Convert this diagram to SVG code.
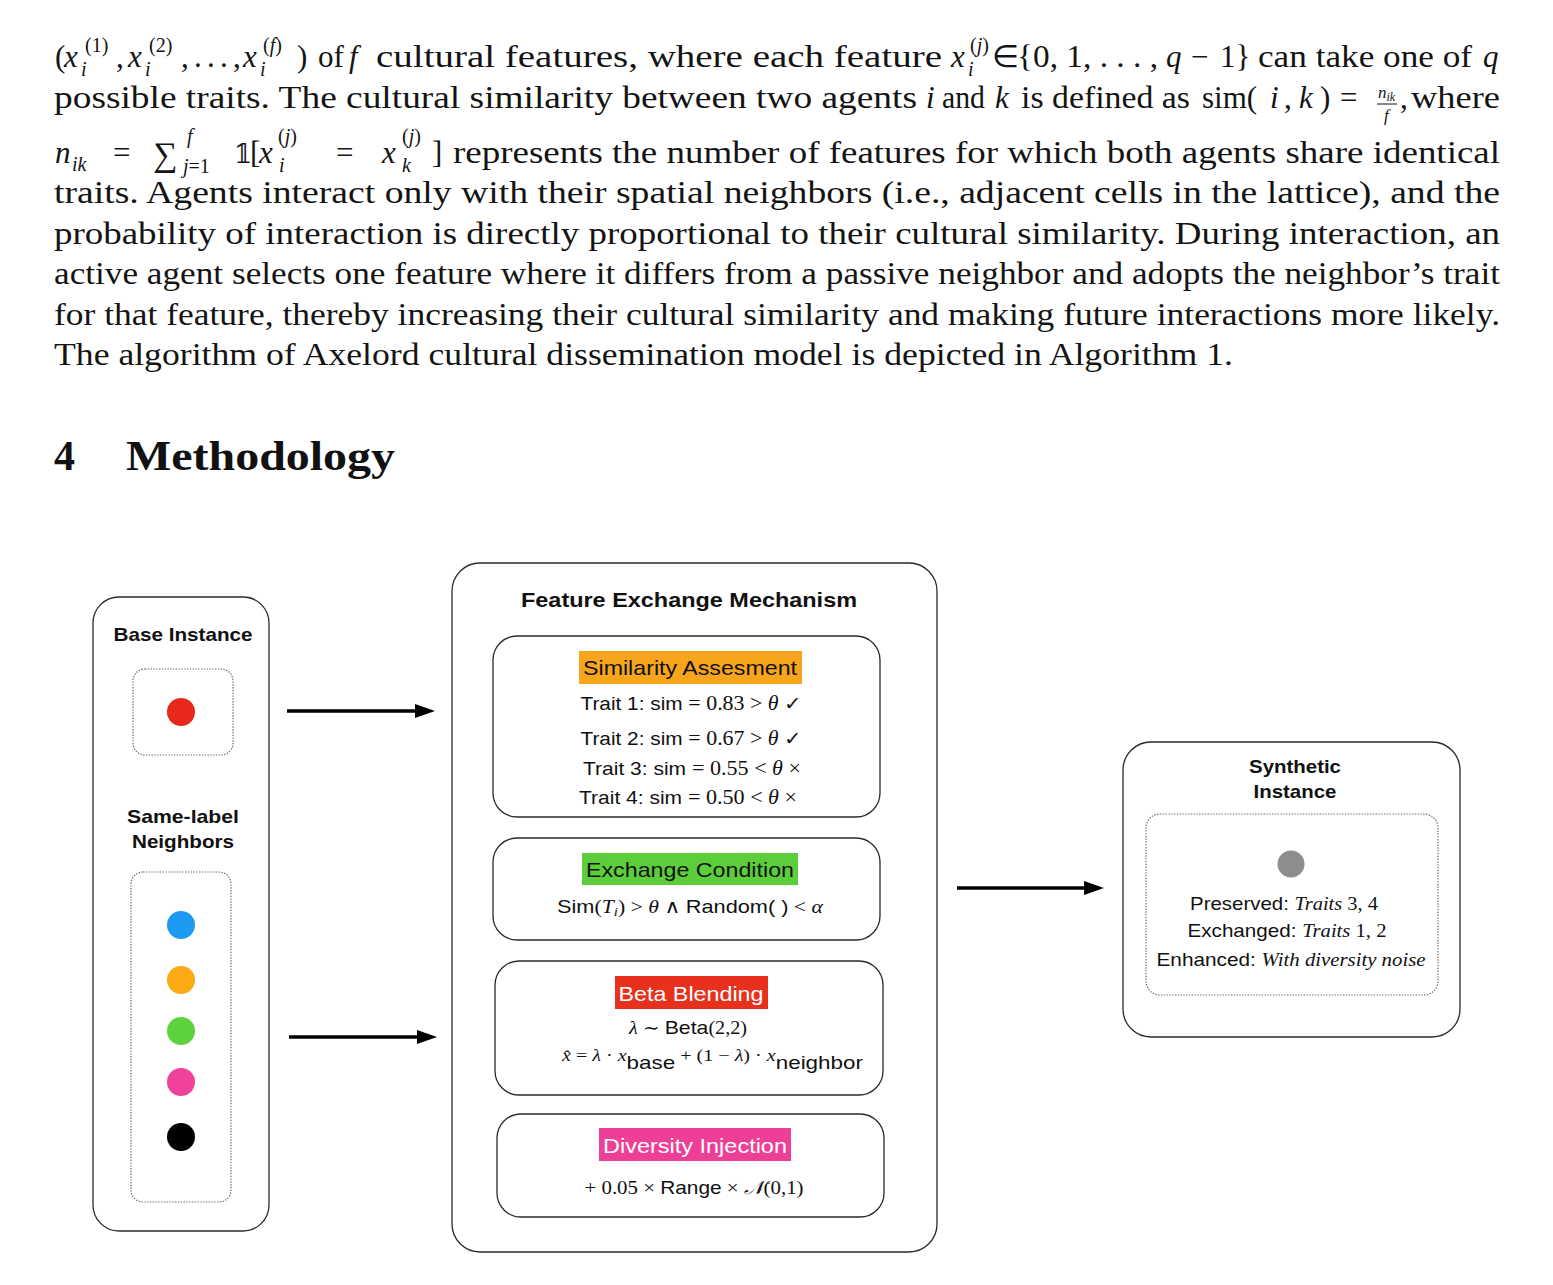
<svg xmlns="http://www.w3.org/2000/svg" width="1553" height="1285" viewBox="0 0 1553 1285">
<style>
.p{font-family:"Liberation Serif","Times New Roman",serif;font-size:31px;fill:#141414}
.it{font-style:italic}
.s{font-size:20px}
.h{font-family:"Liberation Serif","Times New Roman",serif;font-weight:bold;font-size:42px;fill:#111}
.box{fill:#fff;stroke:#2a2a2a;stroke-width:1.3}
.dot{fill:none;stroke:#6a6a6a;stroke-width:1.2;stroke-dasharray:1.4 1.4}
.t{font-family:"Liberation Sans",Arial,sans-serif;fill:#111}
.b{font-weight:bold}
.m{font-family:"Liberation Serif","DejaVu Serif",serif}
.lbl{font-family:"Liberation Sans",Arial,sans-serif;font-size:21px}
.arr{stroke:#000;stroke-width:3.5;fill:none}
</style>
<defs>
<marker id="ah" markerWidth="20" markerHeight="14" refX="8" refY="7" orient="auto" markerUnits="userSpaceOnUse">
<path d="M0,0 L20,7 L0,14 z" fill="#000"/>
</marker>
</defs>
<rect width="1553" height="1285" fill="#fff"/>

<g id="body-text">
<!-- line 1 -->
<text class="p" y="67"><tspan x="55" y="67">(</tspan><tspan x="64" y="67" class="it">x</tspan><tspan x="81" y="76" class="s it">i</tspan><tspan x="85" y="52" class="s">(1)</tspan><tspan x="116" y="67">,</tspan><tspan x="128" y="67" class="it">x</tspan><tspan x="145" y="76" class="s it">i</tspan><tspan x="149" y="52" class="s">(2)</tspan><tspan x="181" y="67">,</tspan><tspan x="194" y="67">.</tspan><tspan x="207" y="67">.</tspan><tspan x="220" y="67">.</tspan><tspan x="233" y="67">,</tspan><tspan x="243" y="67" class="it">x</tspan><tspan x="260" y="76" class="s it">i</tspan><tspan x="263" y="52" class="s">(<tspan class="it">f</tspan>)</tspan><tspan x="297" y="67">)</tspan><tspan x="318" y="67">of</tspan><tspan x="349" y="67" class="it">f</tspan></text>
<text class="p" x="376" y="67" textLength="566" lengthAdjust="spacingAndGlyphs">cultural features, where each feature</text>
<text class="p" y="67"><tspan x="951" y="67" class="it">x</tspan><tspan x="968" y="76" class="s it">i</tspan><tspan x="970" y="52" class="s">(<tspan class="it">j</tspan>)</tspan><tspan x="992" y="67">∈</tspan></text>
<text class="p" x="1017" y="67" textLength="141" lengthAdjust="spacingAndGlyphs">{0, 1, . . . ,</text>
<text class="p" y="67"><tspan x="1166" y="67" class="it">q</tspan><tspan x="1191" y="67">−</tspan><tspan x="1220" y="67">1}</tspan></text>
<text class="p" x="1258" y="67" textLength="214" lengthAdjust="spacingAndGlyphs">can take one of</text>
<text class="p it" x="1483" y="67">q</text>

<!-- line 2 -->
<text class="p" x="54" y="108" textLength="863" lengthAdjust="spacingAndGlyphs">possible traits. The cultural similarity between two agents</text>
<text class="p it" x="926" y="108">i</text>
<text class="p" x="942" y="108" textLength="43" lengthAdjust="spacingAndGlyphs">and</text>
<text class="p it" x="995" y="108">k</text>
<text class="p" x="1021" y="108" textLength="169" lengthAdjust="spacingAndGlyphs">is defined as</text>
<text class="p" y="108"><tspan x="1202" y="108">sim(</tspan><tspan x="1270" y="108" class="it">i</tspan><tspan x="1284" y="108">,</tspan><tspan x="1299" y="108" class="it">k</tspan><tspan x="1320" y="108">)</tspan><tspan x="1340" y="108">=</tspan></text>
<text class="p it" style="font-size:17px" x="1378" y="98">n<tspan style="font-size:12px" dy="3">ik</tspan></text>
<line x1="1377" y1="104" x2="1397" y2="104" stroke="#141414" stroke-width="1"/>
<text class="p it" style="font-size:17px" x="1384" y="121">f</text>
<text class="p" x="1400" y="108">,</text>
<text class="p" x="1411" y="108" textLength="89" lengthAdjust="spacingAndGlyphs">where</text>

<!-- line 3 -->
<text class="p" y="163"><tspan x="55" y="163" class="it">n</tspan><tspan x="72" y="171" class="s it">ik</tspan><tspan x="113" y="163">=</tspan><tspan x="153" y="166" style="font-size:34px">∑</tspan><tspan x="187" y="143" class="s it">f</tspan><tspan x="183" y="173" class="s"><tspan class="it">j</tspan>=1</tspan><tspan x="234" y="163" style="font-family:'DejaVu Serif',serif;font-size:26px">𝟙</tspan><tspan x="250" y="163">[</tspan><tspan x="259" y="163" class="it">x</tspan><tspan x="278" y="143" class="s">(<tspan class="it">j</tspan>)</tspan><tspan x="279" y="172" class="s it">i</tspan><tspan x="336" y="163">=</tspan><tspan x="382" y="163" class="it">x</tspan><tspan x="402" y="143" class="s">(<tspan class="it">j</tspan>)</tspan><tspan x="402" y="172" class="s it">k</tspan><tspan x="432" y="163">]</tspan></text>
<text class="p" x="453" y="163" textLength="1047" lengthAdjust="spacingAndGlyphs">represents the number of features for which both agents share identical</text>

<!-- lines 4-8 -->
<text class="p" x="54" y="203" textLength="1446" lengthAdjust="spacingAndGlyphs">traits.  Agents interact only with their spatial neighbors (i.e., adjacent cells in the lattice), and the</text>
<text class="p" x="54" y="244" textLength="1446" lengthAdjust="spacingAndGlyphs">probability of interaction is directly proportional to their cultural similarity.  During interaction, an</text>
<text class="p" x="54" y="284" textLength="1446" lengthAdjust="spacingAndGlyphs">active agent selects one feature where it differs from a passive neighbor and adopts the neighbor’s trait</text>
<text class="p" x="54" y="325" textLength="1446" lengthAdjust="spacingAndGlyphs">for that feature, thereby increasing their cultural similarity and making future interactions more likely.</text>
<text class="p" x="54" y="365" textLength="1179" lengthAdjust="spacingAndGlyphs">The algorithm of Axelord cultural dissemination model is depicted in Algorithm 1.</text>

<text class="h" x="54" y="470">4</text>
<text class="h" x="126" y="470" textLength="269" lengthAdjust="spacingAndGlyphs">Methodology</text>
</g>

<g id="connectors">
<line class="arr" x1="287" y1="711" x2="423" y2="711" marker-end="url(#ah)"/>
<line class="arr" x1="289" y1="1037" x2="425" y2="1037" marker-end="url(#ah)"/>
<line class="arr" x1="957" y1="888" x2="1092" y2="888" marker-end="url(#ah)"/>
</g>

<g id="input-node">
<rect class="box" x="93" y="597" width="176" height="634" rx="26"/>
<text class="t b" x="183" y="641" font-size="19" text-anchor="middle" textLength="139" lengthAdjust="spacingAndGlyphs">Base Instance</text>
<rect class="dot" x="133" y="669" width="100" height="86" rx="12"/>
<circle cx="181" cy="712" r="14" fill="#E8281A"/>
<text class="t b" x="183" y="823" font-size="19" text-anchor="middle" textLength="112" lengthAdjust="spacingAndGlyphs">Same-label</text>
<text class="t b" x="183" y="848" font-size="19" text-anchor="middle" textLength="102" lengthAdjust="spacingAndGlyphs">Neighbors</text>
<rect class="dot" x="131" y="872" width="100" height="330" rx="12"/>
<circle cx="181" cy="925" r="14" fill="#1D9BF0"/>
<circle cx="181" cy="980" r="14" fill="#FBAA14"/>
<circle cx="181" cy="1031" r="14" fill="#5CD23D"/>
<circle cx="181" cy="1082" r="14" fill="#F0429A"/>
<circle cx="181" cy="1137" r="14" fill="#000"/>
</g>

<g id="mechanism-node">
<rect class="box" x="452" y="563" width="485" height="689" rx="28"/>
<text class="t b" x="689" y="607" font-size="21" text-anchor="middle" textLength="336" lengthAdjust="spacingAndGlyphs">Feature Exchange Mechanism</text>
</g>

<g id="similarity-node">
<rect class="box" x="493" y="636" width="387" height="181" rx="24"/>
<rect x="579" y="651" width="223" height="33" fill="#F7A51C"/>
<text class="lbl" x="690" y="675" text-anchor="middle" fill="#111" textLength="214" lengthAdjust="spacingAndGlyphs">Similarity Assesment</text>
<text class="t" x="691" y="710" font-size="19" text-anchor="middle" textLength="221" lengthAdjust="spacingAndGlyphs">Trait 1: sim <tspan class="m" font-size="20">= 0.83 &gt; <tspan class="it">θ</tspan> </tspan><tspan font-family="DejaVu Sans" font-size="19">✓</tspan></text>
<text class="t" x="691" y="745" font-size="19" text-anchor="middle" textLength="221" lengthAdjust="spacingAndGlyphs">Trait 2: sim <tspan class="m" font-size="20">= 0.67 &gt; <tspan class="it">θ</tspan> </tspan><tspan font-family="DejaVu Sans" font-size="19">✓</tspan></text>
<text class="t" x="692" y="775" font-size="19" text-anchor="middle" textLength="218" lengthAdjust="spacingAndGlyphs">Trait 3: sim <tspan class="m" font-size="20">= 0.55 &lt; <tspan class="it">θ</tspan> ×</tspan></text>
<text class="t" x="688" y="804" font-size="19" text-anchor="middle" textLength="218" lengthAdjust="spacingAndGlyphs">Trait 4: sim <tspan class="m" font-size="20">= 0.50 &lt; <tspan class="it">θ</tspan> ×</tspan></text>
</g>

<g id="exchange-node">
<rect class="box" x="493" y="838" width="387" height="102" rx="24"/>
<rect x="582" y="853" width="216" height="32" fill="#5CCE3B"/>
<text class="lbl" x="690" y="877" text-anchor="middle" fill="#111" textLength="208" lengthAdjust="spacingAndGlyphs">Exchange Condition</text>
<text class="t" x="690" y="913" font-size="19" text-anchor="middle" textLength="266" lengthAdjust="spacingAndGlyphs">Sim<tspan class="m" font-size="19">(<tspan class="it">T</tspan><tspan class="it" font-size="13" dy="3">i</tspan><tspan dy="-3">) &gt; </tspan><tspan class="it">θ</tspan> ∧ </tspan>Random( )<tspan class="m" font-size="19"> &lt; <tspan class="it">α</tspan></tspan></text>
</g>

<g id="beta-node">
<rect class="box" x="495" y="961" width="388" height="134" rx="24"/>
<rect x="615" y="976" width="153" height="33" fill="#E8311D"/>
<text class="lbl" x="691" y="1001" text-anchor="middle" fill="#fff" textLength="145" lengthAdjust="spacingAndGlyphs">Beta Blending</text>
<text class="t" x="688" y="1034" font-size="19" text-anchor="middle" textLength="118" lengthAdjust="spacingAndGlyphs"><tspan class="m it" font-size="18">λ</tspan><tspan class="m" font-size="18"> ∼ </tspan>Beta<tspan class="m" font-size="18">(2,2)</tspan></text>
<text class="t" x="562" y="1061" font-size="19" textLength="301" lengthAdjust="spacingAndGlyphs"><tspan class="m it" font-size="17">x̂</tspan><tspan class="m" font-size="17"> = </tspan><tspan class="m it" font-size="17">λ</tspan><tspan class="m" font-size="17"> · </tspan><tspan class="m it" font-size="17">x</tspan><tspan dy="8">base</tspan><tspan class="m" font-size="17" dy="-8"> + (1 − </tspan><tspan class="m it" font-size="17">λ</tspan><tspan class="m" font-size="17">) · </tspan><tspan class="m it" font-size="17">x</tspan><tspan dy="8">neighbor</tspan></text>
</g>

<g id="diversity-node">
<rect class="box" x="497" y="1114" width="387" height="103" rx="24"/>
<rect x="599" y="1128" width="192" height="33" fill="#EE3F97"/>
<text class="lbl" x="695" y="1153" text-anchor="middle" fill="#fff" textLength="184" lengthAdjust="spacingAndGlyphs">Diversity Injection</text>
<text class="t" x="694" y="1194" font-size="19" text-anchor="middle" textLength="219" lengthAdjust="spacingAndGlyphs"><tspan class="m" font-size="19">+ 0.05 × </tspan>Range<tspan class="m" font-size="19"> × <tspan class="it">𝒩</tspan>(0,1)</tspan></text>
</g>

<g id="synthetic-node">
<rect class="box" x="1123" y="742" width="337" height="295" rx="28"/>
<text class="t b" x="1295" y="773" font-size="19" text-anchor="middle" textLength="92" lengthAdjust="spacingAndGlyphs">Synthetic</text>
<text class="t b" x="1295" y="798" font-size="19" text-anchor="middle" textLength="83" lengthAdjust="spacingAndGlyphs">Instance</text>
<rect class="dot" x="1146" y="814" width="292" height="181" rx="14"/>
<circle cx="1291" cy="864" r="13.5" fill="#8D8D8D"/>
<text class="t" x="1284" y="910" font-size="19" text-anchor="middle" textLength="188" lengthAdjust="spacingAndGlyphs">Preserved: <tspan class="m it">Traits</tspan><tspan class="m"> 3, 4</tspan></text>
<text class="t" x="1287" y="937" font-size="19" text-anchor="middle" textLength="199" lengthAdjust="spacingAndGlyphs">Exchanged: <tspan class="m it">Traits</tspan><tspan class="m"> 1, 2</tspan></text>
<text class="t" x="1291" y="966" font-size="19" text-anchor="middle" textLength="269" lengthAdjust="spacingAndGlyphs">Enhanced: <tspan class="m it">With diversity noise</tspan></text>
</g>
</svg>
